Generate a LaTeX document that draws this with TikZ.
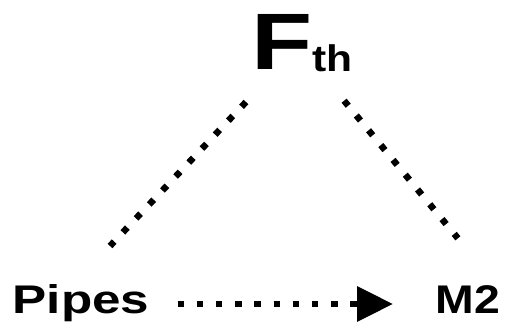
\documentclass[tikz,border=0pt]{standalone}
\usepackage{fontspec}
\newfontfamily\bigfont[FakeStretch=1.25]{Liberation Sans}
\newfontfamily\subfont[FakeStretch=1.15]{Liberation Sans}
\newfontfamily\pipesfont[FakeStretch=1.28]{Liberation Sans}
\newfontfamily\mfont[FakeStretch=1.16]{Liberation Sans}
\usetikzlibrary{arrows.meta}

\begin{document}
\begin{tikzpicture}[x=1pt,y=-1pt]
	\tikzstyle{every node}+=[inner sep=0pt]
	\tikzstyle{dots}=[line width=6.5pt,dash pattern=on 6.5pt off 12.7pt]
	\tikzstyle{word}=[text height=27pt,text depth=9pt]
	\useasboundingbox (0,0) rectangle (509,331);
	% labels
	\node[anchor=base west] (fth) at (251,70) {\bigfont\bfseries\fontsize{80}{80}\selectfont F\subfont\bfseries\fontsize{37}{37}\selectfont\raisebox{-2pt}{th}};
	\node[word,anchor=base west,font=\pipesfont\bfseries\fontsize{40}{42}\selectfont] (pipes) at (12.5,313) {Pipes};
	\node[word,anchor=base east,font=\mfont\bfseries\fontsize{40}{42}\selectfont] (m2) at (500.5,313) {M2};
	% free ends of the two dotted lines
	\coordinate (fl) at (246,102);
	\coordinate (pl) at (110,246);
	\coordinate (fr) at (344.1,100.7);
	\coordinate (mr) at (457.9,238.3);
	\draw[dots] (fl) -- (pl);
	\draw[dots] (fr) -- (mr);
	\draw[dots,-{Triangle[length=36pt,width=34pt]},shorten <=28pt,shorten >=42.6pt] (pipes) -- (m2);
\end{tikzpicture}
\end{document}
